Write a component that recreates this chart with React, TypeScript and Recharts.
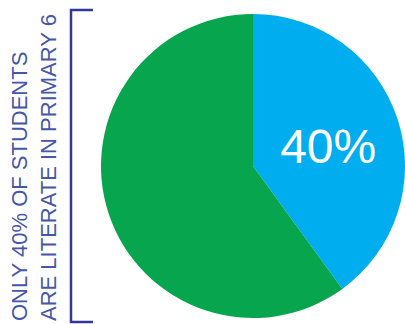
import React from 'react';
import { PieChart, Pie, Cell } from 'recharts';

const sliceNames = ['Literate', 'Not literate'];
const sliceValues = [40, 60];
const sliceLabels = ['40%', ''];
const headlineLines = ['ONLY 40% OF STUDENTS', 'ARE LITERATE IN PRIMARY 6'];

const COLORS = ['#00aeef', '#07a54e'];

const data = sliceNames.map((name, i) => ({ name, value: sliceValues[i], label: sliceLabels[i] }));

const RADIAN = Math.PI / 180;

const renderLabel = (props: any) => {
  const { cx, cy, midAngle, outerRadius, index } = props;
  if (!data[index].label) return null;
  const r = outerRadius * 0.52;
  const x = cx + r * Math.cos(-midAngle * RADIAN);
  const y = cy + r * Math.sin(-midAngle * RADIAN) + 5;
  return (
    <text x={x} y={y} fill="#ffffff" fontSize={48} textAnchor="middle" dominantBaseline="central"
      fontFamily="'Liberation Sans', Arial, sans-serif">
      {data[index].label}
    </text>
  );
};

const App: React.FC = () => {
  return (
    <div style={{ position: 'absolute', left: 0, top: 0, width: 405, height: 324, background: '#fff' }}>
      <PieChart width={405} height={324} margin={{ top: 0, right: 0, bottom: 0, left: 0 }}>
        <Pie
          data={data}
          dataKey="value"
          cx={253}
          cy={166}
          outerRadius={152}
          startAngle={90}
          endAngle={-270}
          stroke="none"
          label={renderLabel}
          labelLine={false}
          isAnimationActive={false}
        >
          {data.map((entry, index) => (
            <Cell key={`cell-${index}`} fill={COLORS[index]} />
          ))}
        </Pie>
      </PieChart>
      <svg width={405} height={324} style={{ position: 'absolute', left: 0, top: 0, pointerEvents: 'none' }}>
        {headlineLines.map((line, i) => (
          <text key={line} x={0} y={0} transform={`translate(${27 + i * 29}, 321) rotate(-90)`}
            fill="#4656ab" fontSize={22} fontFamily="'Liberation Sans', Arial, sans-serif">
            {line}
          </text>
        ))}
        <path d="M93,10 H71 V322 H93" fill="none" stroke="#33379a" strokeWidth={2.5} />
      </svg>
    </div>
  );
};

export default App;
